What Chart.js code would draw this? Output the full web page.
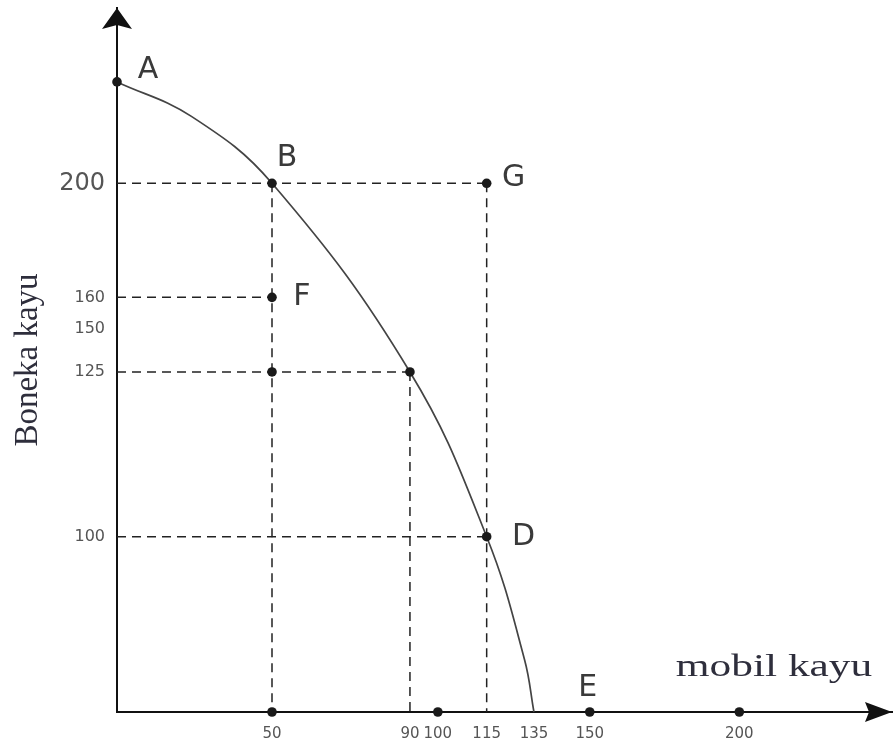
<!DOCTYPE html>
<html>
<head>
<meta charset="utf-8">
<title>Kurva kemungkinan produksi</title>
<script src="https://cdn.jsdelivr.net/npm/chart.js@4/dist/chart.umd.min.js"></script>
<style>
  html, body { margin: 0; padding: 0; background: #fff; }
  #wrap { width: 893px; height: 744px; }
</style>
</head>
<body>
<div id="wrap"><canvas id="ppf"></canvas></div>
<script>
// values (curve traced through A, B, C, D to the x axis)
const curveX = [0, 24, 50, 90, 115, 131, 135];
const curveY = [250, 233, 200, 125, 100, 30, 0];

const pointNames = ["A", "B", "G", "F", "", "", "D", "E", "", "", ""];
const pointX = [0, 50, 115, 50, 50, 90, 115, 150, 50, 100, 200];
const pointY = [250, 200, 200, 160, 125, 125, 100, 0, 0, 0, 0];

// dashed guide segments: from (x1,y1) to (x2,y2)
const guideX1 = [0, 50, 0, 0, 90, 115, 0];
const guideY1 = [200, 200, 160, 125, 125, 200, 100];
const guideX2 = [115, 50, 50, 90, 90, 115, 115];
const guideY2 = [200, 0, 160, 125, 0, 0, 100];

const xTicks = [50, 90, 100, 115, 135, 150, 200];
const yTicks = [100, 125, 150, 160, 200];

// the drawing is not to scale: each axis is stretched piece by piece
const xKnots = [0, 50, 90, 100, 115, 135, 150, 200, 250];
const xFracs = [0, 0.2, 0.378, 0.414, 0.477, 0.538, 0.61, 0.803, 1];
const yKnots = [0, 100, 125, 150, 160, 200, 250, 300];
const yFracs = [0, 0.249, 0.483, 0.544, 0.589, 0.751, 0.895, 1];

// label offsets for the named points
const labelDx = { A: 31, B: 15, G: 27, F: 30, D: 37, E: -2 };
const labelDy = { A: -12, B: -25, G: -5, F: 0, D: 0, E: -24 };

function interp(v, from, to) {
  let i = 1;
  while (i < from.length - 1 && v > from[i]) i++;
  const t = (v - from[i - 1]) / (from[i] - from[i - 1]);
  return to[i - 1] + t * (to[i] - to[i - 1]);
}

class WarpScale extends Chart.LinearScale {
  static id = "warp";
  knots() {
    return this.axis === "x" ? [xKnots, xFracs] : [yKnots, yFracs];
  }
  getPixelForValue(value) {
    const [k, f] = this.knots();
    const t = interp(value, k, f);
    return this.isHorizontal() ? this.left + t * this.width : this.bottom - t * this.height;
  }
  getValueForPixel(pixel) {
    const [k, f] = this.knots();
    const t = this.isHorizontal() ? (pixel - this.left) / this.width : (this.bottom - pixel) / this.height;
    return interp(t, f, k);
  }
}
Chart.register(WarpScale);

const guideSets = guideX1.map((x, i) => ({
  data: [{ x: x, y: guideY1[i] }, { x: guideX2[i], y: guideY2[i] }],
  showLine: true,
  borderColor: "#222",
  borderWidth: 1.5,
  borderDash: [9, 6],
  pointRadius: 0,
  clip: false,
  order: 3,
}));

// axis arrows, point letters and the x title
const decorations = {
  id: "decorations",
  afterDatasetsDraw(chart) {
    const { ctx, chartArea } = chart;
    const meta = chart.getDatasetMeta(1);
    ctx.save();
    ctx.fillStyle = "#3a3a3a";
    ctx.font = "30px 'DejaVu Sans'";
    ctx.textAlign = "center";
    ctx.textBaseline = "middle";
    meta.data.forEach((el, i) => {
      const name = pointNames[i];
      if (!name) return;
      ctx.fillText(name, el.x + labelDx[name], el.y + labelDy[name]);
    });

    // x axis title, drawn wide like the original
    ctx.fillStyle = "#2e2e3c";
    ctx.font = "31px 'Liberation Serif'";
    ctx.translate(774, 668);
    ctx.scale(1.4, 1);
    ctx.fillText("mobil kayu", 0, 0);
    ctx.restore();

    ctx.save();
    ctx.fillStyle = "#111";
    const x0 = chartArea.left, y0 = chartArea.bottom;
    ctx.beginPath();
    ctx.moveTo(x0, chartArea.top);
    ctx.lineTo(x0 + 15, chartArea.top + 21);
    ctx.lineTo(x0, chartArea.top + 17);
    ctx.lineTo(x0 - 15, chartArea.top + 21);
    ctx.closePath();
    ctx.fill();
    ctx.beginPath();
    ctx.moveTo(chartArea.right, y0);
    ctx.lineTo(chartArea.right - 27, y0 - 10);
    ctx.lineTo(chartArea.right - 23, y0);
    ctx.lineTo(chartArea.right - 27, y0 + 10);
    ctx.closePath();
    ctx.fill();
    ctx.restore();
  },
};

new Chart(document.getElementById("ppf"), {
  type: "scatter",
  data: {
    datasets: [
      {
        data: curveX.map((x, i) => ({ x: x, y: curveY[i] })),
        showLine: true,
        borderColor: "#444",
        borderWidth: 1.7,
        tension: 0.4,
        pointRadius: 0,
        clip: false,
        order: 2,
      },
      {
        data: pointX.map((x, i) => ({ x: x, y: pointY[i] })),
        pointRadius: 4.8,
        pointBackgroundColor: "#1a1a1a",
        pointBorderWidth: 0,
        clip: false,
        order: 1,
      },
      ...guideSets,
    ],
  },
  options: {
    responsive: true,
    maintainAspectRatio: false,
    animation: false,
    layout: { autoPadding: false, padding: { top: 8, right: 1, bottom: 0, left: 0 } },
    plugins: {
      legend: { display: false },
      tooltip: { enabled: false },
    },
    scales: {
      x: {
        type: "warp",
        min: 0,
        max: 250,
        grid: { display: false, drawTicks: false },
        border: { display: true, color: "#111", width: 2 },
        afterBuildTicks: (s) => { s.ticks = xTicks.map((v) => ({ value: v })); },
        afterFit: (s) => {
          s.height = 32;
          s.paddingLeft = s.paddingRight = 0;
        },
        ticks: {
          autoSkip: false,
          maxRotation: 0,
          padding: 13,
          color: "#555",
          font: { family: "DejaVu Sans", size: 15 },
        },
      },
      y: {
        type: "warp",
        min: 0,
        max: 300,
        grid: { display: false, drawTicks: false },
        border: { display: true, color: "#111", width: 2 },
        afterBuildTicks: (s) => { s.ticks = yTicks.map((v) => ({ value: v })); },
        afterFit: (s) => {
          s.width = 117;
          s.paddingTop = s.paddingBottom = 0;
        },
        title: {
          display: true,
          text: "Boneka kayu",
          color: "#2e2e3c",
          padding: { top: 9, bottom: 0 },
          font: { family: "Liberation Serif", size: 33 },
        },
        ticks: {
          autoSkip: false,
          padding: 12,
          color: "#555",
          font: (c) => ({ family: "DejaVu Sans", size: c.tick && c.tick.value === 200 ? 24 : 16 }),
        },
      },
    },
  },
  plugins: [decorations],
});
</script>
</body>
</html>
